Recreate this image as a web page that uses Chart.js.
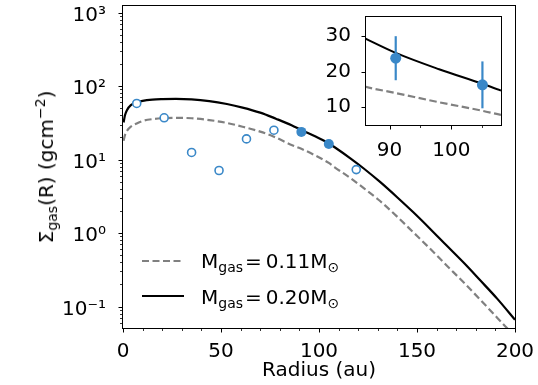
<!DOCTYPE html>
<html>
<head>
<meta charset="utf-8">
<script src="https://cdn.jsdelivr.net/npm/chart.js@4.4.0/dist/chart.umd.js"></script>
<style>
  html, body { margin: 0; padding: 0; background: #fff; }
  #wrap { position: relative; width: 538px; height: 385px; overflow: hidden;
          font-family: 'DejaVu Sans', sans-serif; color: #000; }
  #main { position: absolute; left: 0; top: 0; }
  #inset { position: absolute; left: 300px; top: 0; }
  .ytitle { position: absolute; left: 47px; top: 167px; font-size: 20px; line-height: 20px;
            white-space: nowrap; transform: translate(-50%, -50%) rotate(-90deg); }
  .sub { font-size: 70%; position: relative; top: 4px; }
  .sup { font-size: 70%; position: relative; top: -8px; }
  .leg { position: absolute; font-size: 20px; line-height: 20px; white-space: nowrap; }
  .legline { position: absolute; }
</style>
</head>
<body>
<div id="wrap">
  <canvas id="main" width="538" height="385"></canvas>
  <canvas id="inset" width="238" height="170"></canvas>
  <div class="ytitle">&Sigma;<span class="sub">gas</span>(R) (gcm<span class="sup">&minus;2</span>)</div>
  <svg class="legline" style="left:140px; top:255px" width="46" height="12">
    <line x1="2" y1="6" x2="44" y2="6" stroke="#808080" stroke-width="2.2" stroke-dasharray="7,3.5"/>
  </svg>
  <div class="leg" style="left:201px; top:251px">M<span class="sub">gas</span>&#8202;=&thinsp;0.11M<span class="sub">&#8857;</span></div>
  <svg class="legline" style="left:140px; top:290px" width="46" height="12">
    <line x1="2" y1="6" x2="44" y2="6" stroke="#000" stroke-width="2.2"/>
  </svg>
  <div class="leg" style="left:201px; top:287px">M<span class="sub">gas</span>&#8202;=&thinsp;0.20M<span class="sub">&#8857;</span></div>
</div>
<script>
// model curves (R in au, Sigma in g cm^-2)
const solidR = [0.3, 1, 2, 4, 7, 10, 15, 20, 27, 35, 44, 53, 61, 70, 78, 86, 91, 98, 105, 108, 116, 123, 131, 140, 148, 157, 165, 174, 182, 191, 200];
const solidSigma = [32, 40, 47, 55, 60, 63, 65.5, 66.5, 67, 66, 62.5, 57, 51, 43.5, 36, 29.4, 25.3, 20.7, 16.6, 14.7, 10.4, 7.5, 5.0, 3.05, 1.93, 1.12, 0.68, 0.39, 0.231, 0.127, 0.066];

const dashedR = [0.3, 1, 2, 4, 7, 10, 15, 20, 27, 35, 44, 53, 61, 70, 77, 86, 91, 98, 105, 108, 116, 123, 131, 140, 148, 157, 165, 174, 182, 191, 195, 199];
const dashedSigma = [18, 21.5, 24.5, 28, 31, 33.5, 35.5, 36.5, 37, 36.5, 34.5, 31.5, 28, 24, 20.5, 15.8, 14.0, 11.4, 9.0, 7.85, 5.6, 4.05, 2.75, 1.66, 1.03, 0.6, 0.365, 0.21, 0.126, 0.07, 0.054, 0.042];

// measured points
const openR = [7, 21, 35, 49, 63, 77, 119];
const openSigma = [58, 37, 12.5, 7.1, 19.1, 25.1, 7.3];
const filledR = [91, 105];
const filledSigma = [23.8, 16.3];
const filledErr = [6.2, 6.6];

// axes
const xRange = [0, 200];
const yRange = [0.051, 1230];
const xMajor = [0, 50, 100, 150, 200];
const xMinor = [10, 20, 30, 40, 60, 70, 80, 90, 110, 120, 130, 140, 160, 170, 180, 190];
const yMajor = [0.1, 1, 10, 100, 1000];
const yLabels = ['10\u207B\u00B9', '10\u2070', '10\u00B9', '10\u00B2', '10\u00B3'];
const yMinorMult = [2, 3, 4, 5, 6, 7, 8, 9];

const insetX = [86.2, 108];
const insetY = [5, 35.4];
const insetXMajor = [90, 100];
const insetXMinor = [95, 105];
const insetYMajor = [10, 20, 30];

const BLUE = '#3a88c8';
const FONT = "'DejaVu Sans', sans-serif";

const pts = (xs, ys) => xs.map((x, i) => ({x: x, y: ys[i]}));

// draws matplotlib-like frame and outward ticks
const frameTicks = {
    id: 'frameTicks',
    beforeDraw(chart, args, opts) {
        if (!opts.fill) return;
        const a = chart.chartArea;
        chart.ctx.save();
        chart.ctx.fillStyle = '#fff';
        chart.ctx.fillRect(a.left, a.top, a.right - a.left, a.bottom - a.top);
        chart.ctx.restore();
    },
    afterDraw(chart, args, opts) {
        const {ctx, chartArea: a, scales} = chart;
        ctx.save();
        ctx.strokeStyle = '#000';
        ctx.lineWidth = 1;
        ctx.strokeRect(Math.round(a.left) - 0.5, Math.round(a.top) - 0.5,
            Math.round(a.right - a.left) + 1, Math.round(a.bottom - a.top) + 1);
        const seg = (x1, y1, x2, y2) => { ctx.beginPath(); ctx.moveTo(x1, y1); ctx.lineTo(x2, y2); ctx.stroke(); };
        const drawX = (vals, len) => vals.forEach(v => {
            const px = Math.round(scales.x.getPixelForValue(v)) + 0.5;
            seg(px, Math.round(a.bottom) + 0.5, px, Math.round(a.bottom) + 0.5 + len);
        });
        const drawY = (vals, len) => vals.forEach(v => {
            const py = Math.round(scales.y.getPixelForValue(v)) + 0.5;
            seg(Math.round(a.left) - 0.5, py, Math.round(a.left) - 0.5 - len, py);
        });
        drawX(opts.xMajor || [], 4);
        drawY(opts.yMajor || [], 4);
        ctx.lineWidth = 0.8;
        drawX(opts.xMinor || [], 2.5);
        drawY(opts.yMinor || [], 2.5);
        ctx.restore();
    }
};

function yMinorTicks() {
    const out = [];
    for (let e = -2; e <= 3; e++) {
        yMinorMult.forEach(m => {
            const v = m * Math.pow(10, e);
            if (v > yRange[0] && v < yRange[1]) out.push(v);
        });
    }
    return out;
}

// main chart
new Chart(document.getElementById('main'), {
    type: 'line',
    data: {
        datasets: [
            {
                data: pts(filledR, filledSigma), showLine: false,
                pointRadius: 5, pointBackgroundColor: BLUE, pointBorderColor: BLUE, pointBorderWidth: 0
            },
            {
                data: pts(openR, openSigma), showLine: false,
                pointRadius: 4, pointBackgroundColor: '#fff', pointBorderColor: BLUE, pointBorderWidth: 1.6
            },
            {
                data: pts(solidR, solidSigma),
                pointRadius: 0, borderColor: '#000', borderWidth: 2.2,
                cubicInterpolationMode: 'monotone'
            },
            {
                data: pts(dashedR, dashedSigma),
                pointRadius: 0, borderColor: '#808080', borderWidth: 2.2,
                borderDash: [7, 3.5], cubicInterpolationMode: 'monotone'
            }
        ]
    },
    options: {
        responsive: false,
        animation: false,
        devicePixelRatio: 1,
        layout: { padding: { left: 0, top: 6, right: 23, bottom: 0 } },
        plugins: {
            legend: { display: false },
            tooltip: { enabled: false },
            frameTicks: { xMajor: xMajor, xMinor: xMinor, yMajor: yMajor, yMinor: yMinorTicks() }
        },
        scales: {
            x: {
                type: 'linear', min: xRange[0], max: xRange[1],
                grid: { display: false },
                border: { display: false },
                afterBuildTicks: s => { s.ticks = xMajor.map(v => ({value: v})); },
                afterFit: s => { s.height = 57; s.paddingLeft = 0; s.paddingRight = 0; },
                ticks: { color: '#000', padding: 6, maxRotation: 0, font: { family: FONT, size: 20, lineHeight: 1 } },
                title: { display: true, text: 'Radius (au)', color: '#000', padding: { top: 0, bottom: 2 },
                         font: { family: FONT, size: 20, lineHeight: 1.2 } }
            },
            y: {
                type: 'logarithmic', min: yRange[0], max: yRange[1],
                grid: { display: false },
                border: { display: false },
                afterBuildTicks: s => { s.ticks = yMajor.map(v => ({value: v})); },
                afterFit: s => { s.width = 123; s.paddingTop = 0; s.paddingBottom = 0; },
                ticks: {
                    color: '#000', padding: 9, labelOffset: 3,
                    font: { family: FONT, size: 20, lineHeight: 1 },
                    callback: (v, i) => yLabels[i]
                }
            }
        }
    },
    plugins: [frameTicks]
});

// inset
new Chart(document.getElementById('inset'), {
    type: 'line',
    data: {
        datasets: [
            {
                data: pts(filledR, filledSigma), showLine: false,
                pointRadius: 5.5, pointBackgroundColor: BLUE, pointBorderColor: BLUE, pointBorderWidth: 0
            },
            ...filledR.map((r, i) => ({
                data: [{x: r, y: filledSigma[i] - filledErr[i]}, {x: r, y: filledSigma[i] + filledErr[i]}],
                pointRadius: 0, borderColor: BLUE, borderWidth: 2.2
            })),
            {
                data: pts(solidR, solidSigma),
                pointRadius: 0, borderColor: '#000', borderWidth: 2,
                cubicInterpolationMode: 'monotone'
            },
            {
                data: pts(dashedR, dashedSigma),
                pointRadius: 0, borderColor: '#808080', borderWidth: 2.2,
                borderDash: [7.5, 3.5], cubicInterpolationMode: 'monotone'
            }
        ]
    },
    options: {
        responsive: false,
        animation: false,
        devicePixelRatio: 1,
        layout: { padding: { left: 0, top: 17, right: 37, bottom: 0 } },
        plugins: {
            legend: { display: false },
            tooltip: { enabled: false },
            frameTicks: { fill: true, xMajor: insetXMajor, xMinor: insetXMinor, yMajor: insetYMajor }
        },
        scales: {
            x: {
                type: 'linear', min: insetX[0], max: insetX[1],
                grid: { display: false },
                border: { display: false },
                afterBuildTicks: s => { s.ticks = insetXMajor.map(v => ({value: v})); },
                afterFit: s => { s.height = 45; s.paddingLeft = 0; s.paddingRight = 0; },
                ticks: { color: '#000', padding: 8, maxRotation: 0, font: { family: FONT, size: 20, lineHeight: 1 } }
            },
            y: {
                type: 'linear', min: insetY[0], max: insetY[1],
                grid: { display: false },
                border: { display: false },
                afterBuildTicks: s => { s.ticks = insetYMajor.map(v => ({value: v})); },
                afterFit: s => { s.width = 66; s.paddingTop = 0; s.paddingBottom = 0; },
                ticks: { color: '#000', padding: 7, font: { family: FONT, size: 20, lineHeight: 1 } }
            }
        }
    },
    plugins: [frameTicks]
});
</script>
</body>
</html>
